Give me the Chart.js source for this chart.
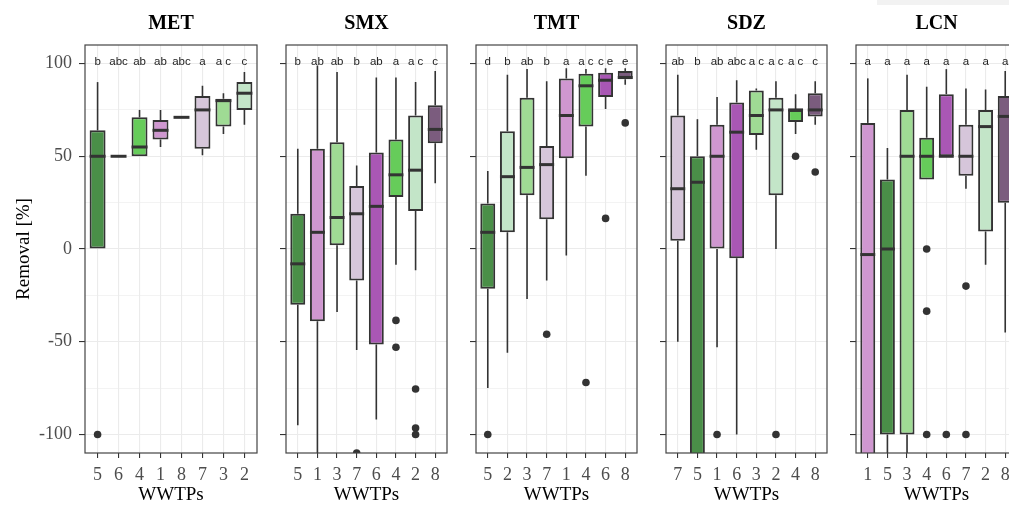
<!DOCTYPE html>
<html>
<head>
<meta charset="utf-8">
<script src="https://cdn.jsdelivr.net/npm/chart.js@4.4.0/dist/chart.umd.min.js"></script>
<style>
body { margin: 0; background: #fff; width: 1009px; height: 505px; overflow: hidden; position: relative; }
canvas { position: absolute; top: 0; }
#corner { position: absolute; left: 877px; top: 0; width: 132px; height: 5px; background: #f2f2f2; }
</style>
</head>
<body>
<div id="corner"></div>
<script>
// ---- data ----
const panelNames = ['MET', 'SMX', 'TMT', 'SDZ', 'LCN'];

// WWTP order on each panel's x axis
const metWwtp = ['5', '6', '4', '1', '8', '7', '3', '2'];
const smxWwtp = ['5', '1', '3', '7', '6', '4', '2', '8'];
const tmtWwtp = ['5', '2', '3', '7', '1', '4', '6', '8'];
const sdzWwtp = ['7', '5', '1', '6', '3', '2', '4', '8'];
const lcnWwtp = ['1', '5', '3', '4', '6', '7', '2', '8'];

// [lower whisker, q1, median, q3, upper whisker]
const metStats = [[0, 0, 50, 64, 90], [50, 50, 50, 50, 50], [50, 50, 55, 71, 75], [55, 59, 64, 69.5, 75],
                  [71, 71, 71, 71, 71], [50.5, 54, 75, 82.5, 88], [62, 66, 80, 81, 84], [67, 75, 84, 90, 95.5]];
const smxStats = [[-95, -30, -8, 19, 54], [-120, -39, 9, 54, 99], [-34, 2, 17, 57.5, 95.5], [-54.5, -17, 19, 34, 45],
                  [-92, -51.5, 23, 52, 92.5], [-8.5, 28, 40, 59, 92.5], [-11.5, 20.5, 42.5, 72, 90], [35.5, 57, 64.5, 77.5, 96]];
const tmtStats = [[-75, -21.5, 9, 24.5, 42], [-56, 9, 39, 63.5, 94], [-27, 29, 44, 81.5, 97], [-17, 16, 45.5, 55.5, 90.5],
                  [-3.5, 49, 72, 92, 97.5], [39.5, 66, 88, 94.5, 97], [75.5, 82, 91, 95, 97.5], [88.5, 91.5, 92.5, 96, 97.5]];
const sdzStats = [[-50, 4.5, 32.5, 72, 94], [-125, -125, 36, 50, 70], [-53, 0, 50, 67, 82], [-100, -5, 63, 79, 91],
                  [53.5, 61.5, 72, 85.5, 86.5], [0, 29, 75, 81.5, 90.5], [62, 68.5, 75, 75, 83.5], [67, 71.5, 75, 84, 90.5]];
const lcnStats = [[-125, -125, -3, 68, 92], [-125, -100, 0, 37.5, 54.5], [-125, -100, 50, 75, 94], [37.5, 37.5, 50, 60, 87.5],
                  [50, 50, 50, 83.5, 97], [32.5, 39.5, 50, 67, 86.5], [-8.5, 9.5, 66, 75, 86], [-45, 25, 71.5, 82.5, 96]];

const metOutliers = [[-100], [], [], [], [], [], [], []];
const smxOutliers = [[], [], [], [-110], [], [-38.5, -53], [-75.5, -96.5, -100], []];
const tmtOutliers = [[-100], [], [], [-46], [], [-72], [16.5], [68]];
const sdzOutliers = [[], [], [-100], [], [], [-100], [50], [41.5]];
const lcnOutliers = [[], [], [], [0, -33.5, -100], [-100], [-20, -100], [], []];

const metLetters = ['b', 'abc', 'ab', 'ab', 'abc', 'a', 'a c', 'c'];
const smxLetters = ['b', 'ab', 'ab', 'b', 'ab', 'a', 'a c', 'c'];
const tmtLetters = ['d', 'b', 'ab', 'b', 'a', 'a c', 'c e', 'e'];
const sdzLetters = ['ab', 'b', 'ab', 'abc', 'a c', 'a c', 'a c', 'c'];
const lcnLetters = ['a', 'a', 'a', 'a', 'a', 'a', 'a', 'a'];

const yTicks = [-100, -75, -50, -25, 0, 25, 50, 75, 100];

// ---- styling ----
const wwtpColors = { '1': '#cf97d0', '2': '#c3e5c8', '3': '#9fdb94', '4': '#66cc5a',
                     '5': '#4a8f48', '6': '#a957b4', '7': '#d6c6da', '8': '#7b5c7e' };
const panelLeft = [85, 286, 476, 666, 856];
const panelRight = [258, 448, 638, 828, 1018];
const serif = "'Liberation Serif', 'Times New Roman', serif";
const ink = '#333333';

const panels = [
  { wwtp: metWwtp, stats: metStats, outliers: metOutliers, letters: metLetters },
  { wwtp: smxWwtp, stats: smxStats, outliers: smxOutliers, letters: smxLetters },
  { wwtp: tmtWwtp, stats: tmtStats, outliers: tmtOutliers, letters: tmtLetters },
  { wwtp: sdzWwtp, stats: sdzStats, outliers: sdzOutliers, letters: sdzLetters },
  { wwtp: lcnWwtp, stats: lcnStats, outliers: lcnOutliers, letters: lcnLetters }
];

// whiskers, medians, letters and the panel frame
function boxExtras(p) {
  return {
    id: 'boxExtras',
    beforeDatasetsDraw(chart) {
      const { ctx, chartArea: a, scales: { x, y } } = chart;
      ctx.save();
      ctx.beginPath();
      ctx.rect(a.left, a.top, a.width, a.height);
      ctx.clip();
      ctx.strokeStyle = ink;
      ctx.lineWidth = 1.6;
      p.stats.forEach(function (s, j) {
        const px = x.getPixelForValue(j);
        ctx.beginPath();
        ctx.moveTo(px, y.getPixelForValue(s[0]));
        ctx.lineTo(px, y.getPixelForValue(s[1]));
        ctx.moveTo(px, y.getPixelForValue(s[3]));
        ctx.lineTo(px, y.getPixelForValue(s[4]));
        ctx.stroke();
      });
      ctx.restore();
    },
    afterDatasetsDraw(chart) {
      const { ctx, chartArea: a, scales: { x, y } } = chart;
      const bars = chart.getDatasetMeta(1).data;
      ctx.save();
      ctx.beginPath();
      ctx.rect(a.left, a.top, a.width, a.height);
      ctx.clip();
      ctx.strokeStyle = ink;
      ctx.lineWidth = 3;
      bars.forEach(function (bar, j) {
        const py = y.getPixelForValue(p.stats[j][2]);
        ctx.beginPath();
        ctx.moveTo(bar.x - bar.width / 2, py);
        ctx.lineTo(bar.x + bar.width / 2, py);
        ctx.stroke();
      });
      ctx.font = "11.5px 'Liberation Sans', Arial, sans-serif";
      ctx.fillStyle = '#222';
      ctx.textAlign = 'center';
      ctx.textBaseline = 'middle';
      p.letters.forEach(function (t, j) {
        ctx.fillText(t, x.getPixelForValue(j), y.getPixelForValue(101));
      });
      ctx.restore();
    },
    afterDraw(chart) {
      const { ctx, chartArea: a } = chart;
      ctx.save();
      ctx.strokeStyle = '#444';
      ctx.lineWidth = 1.2;
      ctx.strokeRect(a.left, a.top, a.width, a.height);
      ctx.restore();
    }
  };
}

panels.forEach(function (p, i) {
  const canvasLeft = i === 0 ? 0 : panelLeft[i] - 12;
  const yWidth = panelLeft[i] - canvasLeft;
  const cv = document.createElement('canvas');
  cv.width = panelRight[i] + 3 - canvasLeft;
  cv.height = 505;
  cv.style.left = canvasLeft + 'px';
  document.body.appendChild(cv);

  const outlierPoints = [];
  p.outliers.forEach(function (list, j) {
    list.forEach(function (v) { outlierPoints.push({ x: j, y: v }); });
  });

  new Chart(cv.getContext('2d'), {
    type: 'bar',
    data: {
      datasets: [{
        type: 'scatter',
        data: outlierPoints,
        pointRadius: 3.8,
        pointBackgroundColor: ink,
        pointBorderWidth: 0,
        order: 0,
        clip: 0
      }, {
        data: p.stats.map(function (s, j) { return { x: j, y: [s[1], s[3]] }; }),
        backgroundColor: p.wwtp.map(function (w) { return wwtpColors[w]; }),
        borderColor: ink,
        borderWidth: 2,
        borderSkipped: false,
        barPercentage: 0.76,
        categoryPercentage: 1,
        order: 1,
        clip: 0
      }]
    },
    options: {
      responsive: false,
      animation: false,
      layout: { padding: 0 },
      plugins: {
        legend: { display: false },
        tooltip: { enabled: false },
        title: {
          display: true,
          text: panelNames[i],
          fullSize: false,
          color: '#000',
          font: { family: serif, size: 20, weight: 'bold', lineHeight: 1.2 },
          padding: { top: 11.7, bottom: 9.3 }
        }
      },
      scales: {
        x: {
          type: 'linear',
          min: -0.6,
          max: 7.6,
          offset: false,
          afterBuildTicks: function (s) { s.ticks = p.wwtp.map(function (_, j) { return { value: j }; }); },
          afterFit: function (s) { s.height = 52; },
          ticks: {
            autoSkip: false,
            maxRotation: 0,
            padding: 6,
            color: '#4d4d4d',
            font: { family: serif, size: 18 },
            callback: function (v) { return p.wwtp[v]; }
          },
          grid: { offset: false, color: '#ebebeb', lineWidth: 1.1, tickLength: 5, tickColor: ink, tickWidth: 1.1 },
          border: { display: false },
          title: {
            display: true,
            text: 'WWTPs',
            color: '#000',
            font: { family: serif, size: 19, lineHeight: 1 },
            padding: { top: 0, bottom: 0 }
          }
        },
        y: {
          min: -110,
          max: 110,
          afterBuildTicks: function (s) { s.ticks = yTicks.map(function (v) { return { value: v }; }); },
          afterFit: function (s) { s.width = yWidth; },
          ticks: {
            autoSkip: false,
            padding: 7,
            color: '#4d4d4d',
            font: { family: serif, size: 18 },
            callback: function (v) { return (i === 0 && v % 50 === 0) ? String(v) : ''; }
          },
          grid: {
            color: '#ebebeb',
            lineWidth: function (c) { return c.tick && c.tick.value % 50 !== 0 ? 0.6 : 1.1; },
            tickLength: 6,
            tickWidth: 1.1,
            tickColor: function (c) { return c.tick && c.tick.value % 50 !== 0 ? 'rgba(0,0,0,0)' : ink; }
          },
          border: { display: false },
          title: {
            display: i === 0,
            text: 'Removal [%]',
            color: '#000',
            font: { family: serif, size: 19, lineHeight: 1.2 },
            padding: { top: 13, bottom: 0 }
          }
        }
      }
    },
    plugins: [boxExtras(p)]
  });
});
</script>
</body>
</html>
